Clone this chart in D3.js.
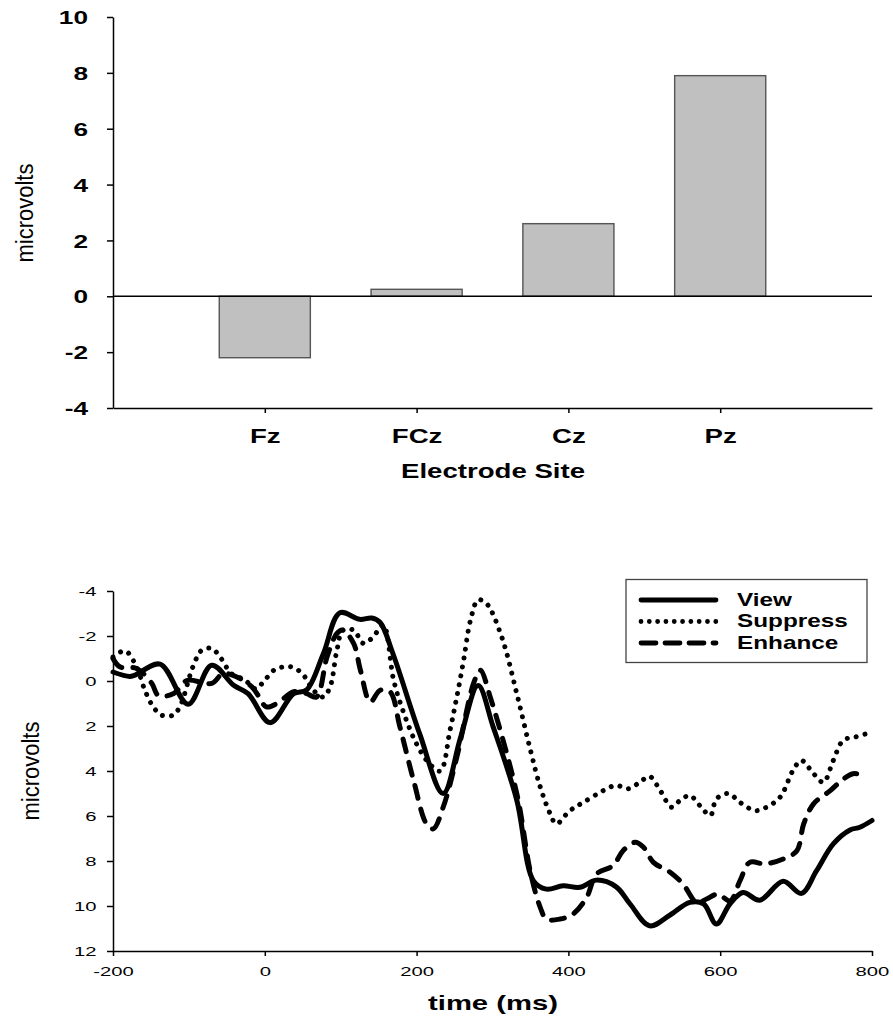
<!DOCTYPE html>
<html>
<head>
<meta charset="utf-8">
<script src="https://cdn.jsdelivr.net/npm/d3@7"></script>
<style>
  html, body { margin: 0; padding: 0; background: #fff; }
  svg { display: block; }
  text { font-family: "Liberation Sans", Arial, sans-serif; fill: #000; }
</style>
</head>
<body>
<svg id="chart" width="893" height="1020"></svg>
<script>
// ---------- Top chart data ----------
const sites = ["Fz", "FCz", "Cz", "Pz"];
const siteValues = [-2.2, 0.25, 2.6, 7.9];
const barTicks = [-4, -2, 0, 2, 4, 6, 8, 10];

// ---------- Bottom chart data ----------
const timeTicks = [-200, 0, 200, 400, 600, 800];
const voltTicks = [-4, -2, 0, 2, 4, 6, 8, 10, 12];
const seriesNames = ["View", "Suppress", "Enhance"];

const viewTime = [-200,-178,-171,-138,-101,-70,-41,-22,7,38,55,77,99,125,141,152,169,204,235,258,281,301,332,354,371,393,415,437,463,481,507,534,560,578,595,613,630,652,683,707,727,749,771,784,800];
const viewVolt = [-0.4,-0.2,-0.26,-0.75,1.03,-0.7,0.19,0.56,1.85,0.56,0.4,-1.2,-3.03,-2.74,-2.8,-2.6,-1.2,2.34,5.0,2.5,0.2,2.05,5.3,8.88,9.25,9.1,9.17,8.85,9.15,9.9,10.88,10.4,9.84,9.9,10.8,9.9,9.4,9.74,8.9,9.44,8.43,7.24,6.62,6.5,6.2];

const suppressTime = [-200,-184,-169,-158,-147,-136,-121,-112,-94,-83,-70,-59,-44,-26,-12,0,12,25,38,51,64,77,86,95,103,117,130,143,156,170,185,200,215,231,244,253,262,271,281,292,312,332,349,363,376,384,402,420,446,463,479,494,507,521,536,547,560,573,587,595,611,626,646,661,679,696,707,723,736,749,762,778,793,800];
const suppressVolt = [-1.07,-1.34,-0.63,0.41,1.15,1.52,1.52,1.15,-0.7,-1.37,-1.45,-1.07,-0.33,-0.04,0.35,-0.04,-0.48,-0.63,-0.6,-0.26,0.41,0.71,0.26,-1.37,-2.26,-2.26,-1.67,-1.97,-2.49,0.0,1.6,2.8,3.6,4.0,2.19,0.71,-0.93,-2.7,-3.6,-3.45,-1.97,0.56,2.94,4.72,5.9,6.35,5.76,5.39,4.87,4.64,4.79,4.5,4.24,4.87,5.61,5.31,5.09,5.53,5.98,5.24,5.0,5.39,5.76,5.61,5.16,3.97,3.53,4.12,4.5,3.53,2.64,2.49,2.34,2.3];

const enhanceTime = [-200,-191,-169,-149,-140,-120,-103,-70,-55,-35,-17,-9,2,16,38,55,68,82,95,103,117,126,139,152,165,178,196,213,222,235,253,275,284,297,332,350,363,371,389,406,424,437,459,472,488,499,512,534,551,569,582,597,613,626,639,659,683,701,710,723,745,760,775,789];
const enhanceVolt = [-1.0,-0.63,-0.56,0.1,0.65,0.56,-0.02,0.11,-0.33,-0.15,0.26,0.63,1.15,1.0,0.48,0.56,0.71,-1.07,-2.11,-2.26,-1.67,-0.48,0.93,0.41,0.48,2.04,4.42,6.35,6.57,5.61,3.38,0.11,-0.48,0.71,5.0,8.5,10.07,10.58,10.58,10.36,9.62,8.58,8.2,7.54,7.17,7.39,8.06,8.5,9.02,9.84,9.69,9.47,9.77,8.88,8.06,8.13,7.91,7.54,6.35,5.46,4.87,4.42,4.12,4.2];

// ---------- helpers ----------
const svg = d3.select("#chart");
const fmt = d => String(d);
const FONT = '"Liberation Sans", Arial, sans-serif';

function stretchText(g, x, y, txt, opts) {
  const t = g.append("text")
    .attr("transform", `translate(${x},${y}) scale(${opts.sx || 1},1)` + (opts.rotate ? ` rotate(${opts.rotate})` : ""))
    .attr("text-anchor", opts.anchor || "middle")
    .style("font-family", FONT)
    .style("font-size", opts.size + "px")
    .style("font-weight", opts.weight || "normal")
    .text(txt);
  if (opts.baseline) t.attr("dominant-baseline", opts.baseline);
  return t;
}

// ================= TOP: bar chart =================
const barX = d3.scalePoint().domain(sites).range([113, 872]).padding(1);
const barY = d3.scaleLinear().domain([-4, 10]).range([408, 17]);
const barW = barX.step() * 0.6;
const SX_TOP = 1.38;

const gTop = svg.append("g");

gTop.selectAll("rect.bar")
  .data(sites)
  .enter().append("rect")
  .attr("class", "bar")
  .attr("x", d => barX(d) - barW / 2)
  .attr("width", barW)
  .attr("y", (d, i) => barY(Math.max(0, siteValues[i])))
  .attr("height", (d, i) => Math.abs(barY(siteValues[i]) - barY(0)))
  .attr("fill", "#c0c0c0")
  .attr("stroke", "#555")
  .attr("stroke-width", 1.4);

gTop.append("line")
  .attr("x1", barX.range()[0]).attr("x2", barX.range()[1])
  .attr("y1", barY(0)).attr("y2", barY(0))
  .attr("stroke", "#000").attr("stroke-width", 1.5);

const topYAxis = gTop.append("g")
  .attr("transform", `translate(113,0)`)
  .call(d3.axisLeft(barY).tickValues(barTicks).tickFormat(fmt).tickSize(6).tickSizeOuter(0));
topYAxis.selectAll("path, line").attr("stroke", "#000").attr("stroke-width", 1.5);
topYAxis.selectAll("text")
  .attr("x", null).attr("dy", null)
  .attr("transform", `translate(-25,0) scale(${SX_TOP},1)`)
  .attr("dominant-baseline", "central")
  .attr("fill", "#000")
  .style("font-size", "19px").style("font-weight", "bold")
  .style("font-family", FONT);

const topXAxis = gTop.append("g")
  .attr("transform", `translate(0,408)`)
  .call(d3.axisBottom(barX).tickSize(5).tickSizeOuter(0));
topXAxis.selectAll("path, line").attr("stroke", "#000").attr("stroke-width", 1.5);
topXAxis.selectAll("text")
  .attr("y", null).attr("dy", null)
  .attr("transform", `translate(0,34.5) scale(${SX_TOP},1)`)
  .attr("fill", "#000")
  .style("font-size", "20px").style("font-weight", "bold")
  .style("font-family", FONT);

stretchText(gTop, 493, 478, "Electrode Site", { size: 20, weight: "bold", sx: SX_TOP });
stretchText(gTop, 25, 213, "microvolts", { size: 22, sx: 1.12, rotate: -90, baseline: "central" });

// ================= BOTTOM: ERP waveforms =================
const erpX = d3.scaleLinear().domain([-200, 800]).range([113, 872]);
const erpY = d3.scaleLinear().domain([-4, 12]).range([591, 951]);
const SX_BOT = 1.5;

const gBot = svg.append("g");

const botYAxis = gBot.append("g")
  .attr("transform", `translate(113,0)`)
  .call(d3.axisLeft(erpY).tickValues(voltTicks).tickFormat(fmt).tickSize(6).tickSizeOuter(0));
botYAxis.selectAll("path, line").attr("stroke", "#000").attr("stroke-width", 1.5);
botYAxis.selectAll("text")
  .attr("x", null).attr("dy", null)
  .attr("transform", `translate(-16.5,0) scale(${SX_BOT},1)`)
  .attr("dominant-baseline", "central")
  .attr("fill", "#000")
  .style("font-size", "13.5px")
  .style("font-family", FONT);

const botXAxis = gBot.append("g")
  .attr("transform", `translate(0,951)`)
  .call(d3.axisBottom(erpX).tickValues(timeTicks).tickFormat(fmt).tickSize(5).tickSizeOuter(0));
botXAxis.selectAll("path, line").attr("stroke", "#000").attr("stroke-width", 1.5);
botXAxis.selectAll("text")
  .attr("y", null).attr("dy", null)
  .attr("transform", `translate(0,24.5) scale(${SX_BOT},1)`)
  .attr("fill", "#000")
  .style("font-size", "13.5px")
  .style("font-family", FONT);

stretchText(gBot, 493, 1010, "time (ms)", { size: 19.5, weight: "bold", sx: SX_BOT });
stretchText(gBot, 31, 771, "microvolts", { size: 22, sx: 1.12, rotate: -90, baseline: "central" });

const styles = {
  View:     { dash: null,     legDash: null },
  Suppress: { dash: "0.01 9", legDash: "0.01 8.3" },
  Enhance:  { dash: "13 11",  legDash: "15 9" }
};
const seriesData = [
  { name: "View",     t: viewTime,     v: viewVolt },
  { name: "Suppress", t: suppressTime, v: suppressVolt },
  { name: "Enhance",  t: enhanceTime,  v: enhanceVolt }
];

const lineGen = d3.line()
  .x(d => erpX(d[0]))
  .y(d => erpY(d[1]))
  .curve(d3.curveCatmullRom.alpha(0.5));

seriesData.forEach(s => {
  const pts = s.t.map((t, i) => [t, s.v[i]]);
  gBot.append("path")
    .datum(pts)
    .attr("d", lineGen)
    .attr("fill", "none")
    .attr("stroke", "#000")
    .attr("stroke-width", 5)
    .attr("stroke-linecap", "round")
    .attr("stroke-linejoin", "round")
    .attr("stroke-dasharray", styles[s.name].dash);
});

// legend
const leg = gBot.append("g");
leg.append("rect")
  .attr("x", 626).attr("y", 579.5)
  .attr("width", 241).attr("height", 83)
  .attr("fill", "#fff")
  .attr("stroke", "#444").attr("stroke-width", 1.3);

const legRows = [600, 621.5, 643];
seriesNames.forEach((name, i) => {
  leg.append("line")
    .attr("x1", 641).attr("x2", 716)
    .attr("y1", legRows[i]).attr("y2", legRows[i])
    .attr("stroke", "#000")
    .attr("stroke-width", 4.8)
    .attr("stroke-linecap", "round")
    .attr("stroke-dasharray", styles[name].legDash);
  stretchText(leg, 737, legRows[i], name, { size: 18, weight: "bold", sx: 1.35, anchor: "start", baseline: "central" });
});
</script>
</body>
</html>
